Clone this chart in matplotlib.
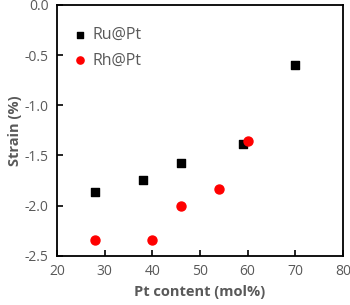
import matplotlib
matplotlib.use("Agg")
import matplotlib.pyplot as plt

# Datos
pt_ru = [28, 38, 46, 59, 70]
strain_ru = [-1.86, -1.74, -1.57, -1.39, -0.60]
pt_rh = [28, 40, 46, 54, 60]
strain_rh = [-2.34, -2.34, -2.00, -1.83, -1.36]

gris = '#595959'
plt.rcParams['font.family'] = ['Open Sans', 'DejaVu Sans']

fig = plt.figure(figsize=(3.5, 3.05), dpi=100)
ax = fig.add_axes([0.163, 0.161, 0.817, 0.823])

ax.scatter(pt_ru, strain_ru, marker='s', s=38, color='black', label='Ru@Pt', zorder=3)
ax.scatter(pt_rh, strain_rh, marker='o', s=42, color='#ff0000', label='Rh@Pt', zorder=3)

ax.set_xlim(20, 80)
ax.set_ylim(-2.5, 0.0)
ax.set_xticks(range(20, 81, 10))
ax.set_yticks([-2.5, -2.0, -1.5, -1.0, -0.5, 0.0])
ax.set_yticklabels([f'{v:.1f}' for v in ax.get_yticks()])
ax.tick_params(direction='in', length=4, width=1.2, labelsize=10, colors='black',
               labelcolor=gris, pad=6)
for s in ax.spines.values():
    s.set_linewidth(1.3)
    s.set_color('black')

ax.set_xlabel('Pt content (mol%)', fontsize=10.5, fontweight='bold', color=gris, labelpad=4)
ax.set_ylabel('Strain (%)', fontsize=10.5, fontweight='bold', color=gris, labelpad=2)

leg = ax.legend(loc='upper left', bbox_to_anchor=(-0.005, 0.97), frameon=False,
                fontsize=11.5, handlelength=1.2, handletextpad=0.2,
                labelspacing=0.6, markerscale=0.8)
for t in leg.get_texts():
    t.set_color(gris)

fig.savefig('out.png', dpi=100)
